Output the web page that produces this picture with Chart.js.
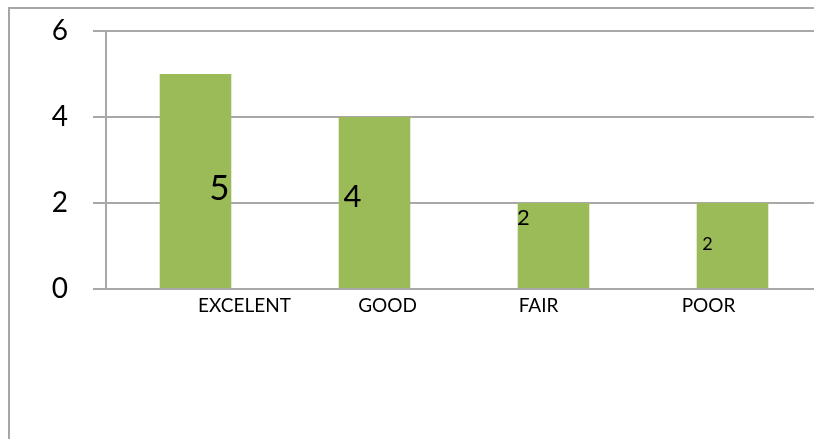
<!DOCTYPE html>
<html>
<head>
<meta charset="utf-8">
<script src="https://cdn.jsdelivr.net/npm/chart.js@4"></script>
<style>
  html, body { margin: 0; padding: 0; background: #fff; overflow: hidden; width: 814px; height: 439px; }
  #frame { position: absolute; left: 8px; top: 7px; width: 900px; height: 600px;
           border-left: 2px solid #a6a6a6; border-top: 2px solid #a6a6a6; }
  #chart { position: absolute; left: 0; top: 0; }
</style>
</head>
<body>
<div id="frame"></div>
<canvas id="chart" width="830" height="439"></canvas>
<script>
// Data
const categories = ['EXCELENT', 'GOOD', 'FAIR', 'POOR'];
const ratings = [5, 4, 2, 2];
const yTicks = [0, 2, 4, 6];

// Label placement (the original has hand-moved labels)
const catLabelDx = [49, 13, -15, -24];
const valueLabelDx = [24, -22, -30, -25];
const valueLabelDy = [126, 90, 22, 47];
const valueLabelSize = [35, 31, 22, 18];

const FONT = 'Lato, "Open Sans", sans-serif';

const labelPlugin = {
    id: 'handLabels',
    afterDatasetsDraw(chart) {
        const ctx = chart.ctx;
        const meta = chart.getDatasetMeta(0);
        ctx.save();
        ctx.fillStyle = '#000';
        ctx.textAlign = 'center';
        ctx.textBaseline = 'alphabetic';
        meta.data.forEach((bar, i) => {
            ctx.font = valueLabelSize[i] + 'px ' + FONT;
            ctx.fillText(String(ratings[i]), bar.x + valueLabelDx[i], bar.y + valueLabelDy[i]);
            ctx.font = '19px ' + FONT;
            ctx.fillText(categories[i], bar.x + catLabelDx[i], chart.chartArea.bottom + 23);
        });
        ctx.restore();
    }
};

new Chart(document.getElementById('chart').getContext('2d'), {
    type: 'bar',
    data: {
        labels: categories,
        datasets: [{
            data: ratings,
            backgroundColor: '#9BBB59',
            barPercentage: 0.4,
            categoryPercentage: 1
        }]
    },
    options: {
        responsive: false,
        animation: false,
        layout: { padding: { top: 31, right: 8, left: 0, bottom: 0 } },
        plugins: { legend: { display: false }, tooltip: { enabled: false } },
        scales: {
            x: {
                grid: { display: false },
                border: { display: false },
                ticks: { display: false },
                afterFit(scale) { scale.height = 150; }
            },
            y: {
                min: 0,
                max: 6,
                afterBuildTicks(scale) { scale.ticks = yTicks.map(v => ({ value: v })); },
                afterFit(scale) {
                    scale.width = 106;
                    scale.paddingTop = 0;
                    scale.paddingBottom = 0;
                },
                grid: { color: '#a8a8a8', lineWidth: 2, tickLength: 13, drawTicks: true },
                border: { display: true, color: '#a8a8a8', width: 2 },
                ticks: {
                    padding: 25,
                    color: '#000',
                    font: { family: FONT, size: 28 }
                }
            }
        }
    },
    plugins: [labelPlugin]
});
</script>
</body>
</html>
